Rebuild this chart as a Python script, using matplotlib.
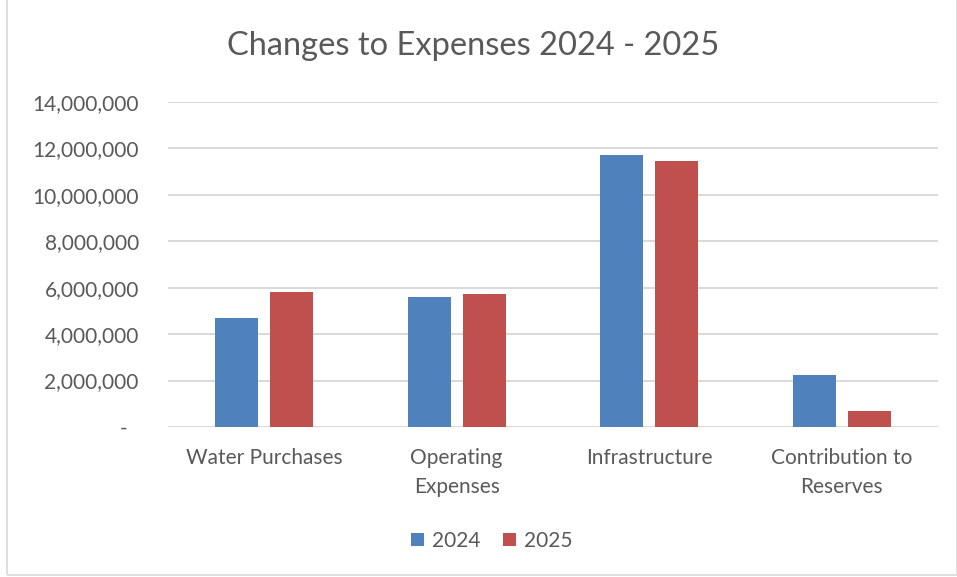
import matplotlib as mpl
mpl.use('Agg')
import matplotlib.pyplot as plt
from matplotlib.patches import Rectangle
from matplotlib.ticker import FuncFormatter
import numpy as np

plt.rcParams['font.family'] = ['Lato', 'DejaVu Sans']

categories = ['Water Purchases', 'Operating\nExpenses', 'Infrastructure', 'Contribution to\nReserves']
values_2024 = [4700000, 5580000, 11700000, 2260000]
values_2025 = [5810000, 5750000, 11480000, 680000]
series_labels = ['2024', '2025']

blue = '#4F81BD'
red = '#C0504D'
text_col = '#595959'
grid_col = '#D9D9D9'

fig = plt.figure(figsize=(9.57, 5.77), dpi=100)
ax = fig.add_axes([0.1755, 0.26, 0.8045, 0.5632])

x = np.arange(len(categories))
w = 0.223
off = 0.143
ax.bar(x - off, values_2024, w, color=blue, label=series_labels[0], zorder=3)
ax.bar(x + off, values_2025, w, color=red, label=series_labels[1], zorder=3)

ax.set_xlim(-0.5, len(categories) - 0.5)
ax.set_ylim(0, 14000000)
ax.set_yticks(np.arange(0, 14000001, 2000000))

def fmt(v, pos):
    if v == 0:
        return '-  '
    return f'{int(v):,}'
ax.yaxis.set_major_formatter(FuncFormatter(fmt))

ax.set_xticks(x)
ax.set_xticklabels(categories, fontsize=15, color=text_col, linespacing=1.55, va='top')
ax.tick_params(axis='y', length=0, labelsize=15, labelcolor=text_col, pad=21)
ax.tick_params(axis='x', length=0, pad=15)

ax.grid(axis='y', color=grid_col, linewidth=1.4, zorder=0)
for s in ax.spines.values():
    s.set_visible(False)

fig.text(0.494, 0.921, 'Changes to Expenses 2024 - 2025', ha='center', va='center',
         fontsize=23.5, color=text_col)

fig.legend(loc='center', bbox_to_anchor=(0.514, 0.062), ncol=2, frameon=False,
           fontsize=15, labelcolor=text_col, handlelength=0.6, handleheight=0.6,
           handletextpad=0.4, columnspacing=1.1)

fig.patches.append(Rectangle((0.007, 0.003), 0.993, 1.0, transform=fig.transFigure,
                             fill=False, edgecolor=grid_col, linewidth=1.2))

fig.savefig('out.png', dpi=100)
